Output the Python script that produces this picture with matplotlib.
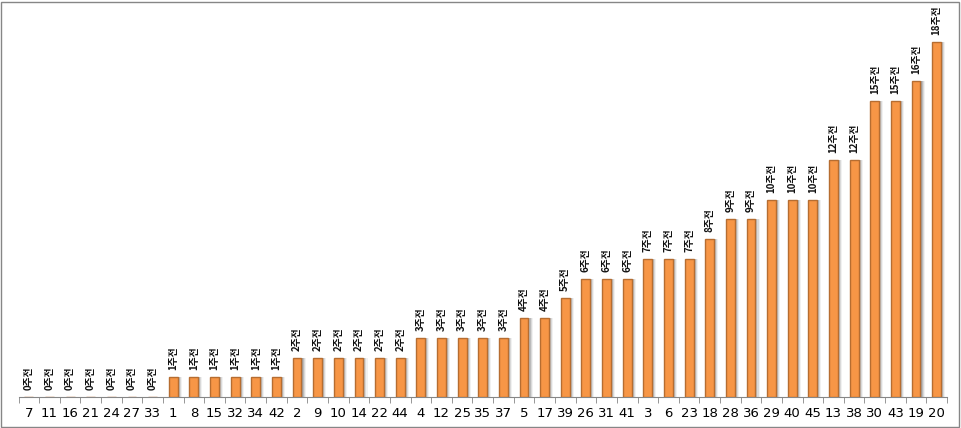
import numpy as np
import matplotlib.pyplot as plt
from matplotlib.patches import Rectangle

plt.rcParams['font.family'] = ['Noto Sans CJK KR', 'DejaVu Sans']

numbers = ['7', '11', '16', '21', '24', '27', '33', '1', '8', '15', '32', '34', '42',
           '2', '9', '10', '14', '22', '44', '4', '12', '25', '35', '37', '5', '17', '39',
           '26', '31', '41', '3', '6', '23', '18', '28', '36', '29', '40', '45', '13', '38',
           '30', '43', '19', '20']
weeks_ago = [0, 0, 0, 0, 0, 0, 0, 1, 1, 1, 1, 1, 1,
             2, 2, 2, 2, 2, 2, 3, 3, 3, 3, 3, 4, 4, 5,
             6, 6, 6, 7, 7, 7, 8, 9, 9, 10, 10, 10, 12, 12,
             15, 15, 16, 18]

W, H = 961, 428
fig = plt.figure(figsize=(W / 100, H / 100), dpi=100)
ax = fig.add_axes([18.5 / W, (H - 397) / H, (947 - 18.5) / W, (397 - 2) / H])

x = np.arange(len(numbers))
bw = 0.43

# soft shadow to the right of each bar
for dx, a in [(0.05, 0.4), (0.10, 0.3), (0.15, 0.2), (0.20, 0.1)]:
    ax.bar(x + dx, weeks_ago, width=bw, color='#7a7a7a', alpha=a, linewidth=0, zorder=1)

ax.bar(x, weeks_ago, width=bw, color='#F79646', edgecolor='#B66D31', linewidth=1, zorder=3)

for xi, v in zip(x, weeks_ago):
    ax.annotate(f'{v}주전', (xi, v), xytext=(0, 5), textcoords='offset points',
                rotation=90, ha='center', va='bottom', fontsize=7, fontweight='bold',
                color='#111111', zorder=4)

ax.set_xlim(-0.5, len(numbers) - 0.5)
ax.set_ylim(0, 20)
ax.set_yticks([])
ax.set_xticks(x)
ax.set_xticklabels(numbers, family=['DejaVu Sans'], fontsize=9.5)
ax.set_xticks(np.arange(-0.5, len(numbers)), minor=True)
ax.tick_params(axis='x', which='major', length=0, pad=7)
ax.tick_params(axis='x', which='minor', length=4, color='#868686', direction='out')
for s in ['top', 'left', 'right']:
    ax.spines[s].set_visible(False)
ax.spines['bottom'].set_color('#868686')

fig.patches.append(Rectangle((1 / W, 1 / H), (W - 3) / W, (H - 3) / H, transform=fig.transFigure,
                             fill=False, edgecolor='#868686', linewidth=1))

fig.savefig('out.png', dpi=100)
